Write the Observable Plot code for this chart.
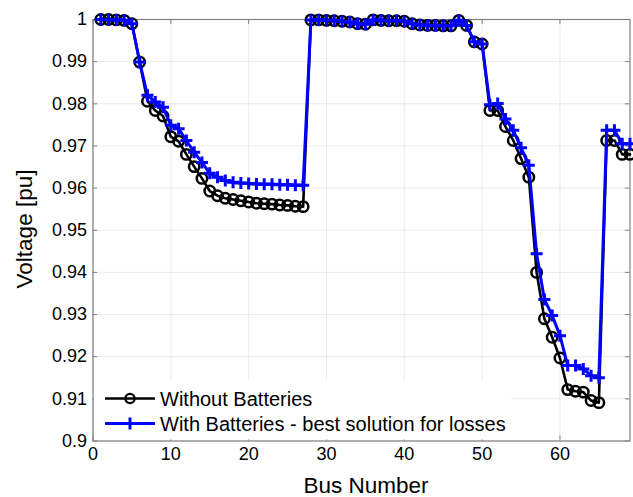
<!DOCTYPE html>
<html><head><meta charset="utf-8">
<script src="https://cdn.jsdelivr.net/npm/d3@7"></script>
<script src="https://cdn.jsdelivr.net/npm/@observablehq/plot@0.6"></script>
<style>
body{margin:0;background:#fff;}
#chart{position:relative;width:633px;height:497px;}
</style>
</head><body><div id="chart"></div>
<script>
const busNumbers = [1,2,3,4,5,6,7,8,9,10,11,12,13,14,15,16,17,18,19,20,21,22,23,24,25,26,27,28,29,30,31,32,33,34,35,36,37,38,39,40,41,42,43,44,45,46,47,48,49,50,51,52,53,54,55,56,57,58,59,60,61,62,63,64,65,66,67,68,69];

const withoutBatteries = [
  1.0000,1.0000,0.9999,0.9998,0.9990,0.9899,0.9806,0.9784,0.9771,0.9722,
  0.9711,0.9680,0.9651,0.9623,0.9593,0.9582,0.9576,0.9573,0.9570,0.9567,
  0.9564,0.9563,0.9562,0.9560,0.9559,0.9557,0.9556,0.9999,0.9999,0.9998,
  0.9997,0.9996,0.9994,0.9990,0.9989,0.9999,0.9998,0.9997,0.9997,0.9996,
  0.9990,0.9987,0.9986,0.9986,0.9985,0.9985,0.9998,0.9986,0.9947,0.9942,
  0.9784,0.9784,0.9746,0.9713,0.9670,0.9626,0.9400,0.9290,0.9246,0.9197,
  0.9122,0.9118,0.9116,0.9096,0.9091,0.9713,0.9713,0.9680,0.9680
];

const withBatteries = [
  1.0000,1.0000,0.9999,0.9998,0.9990,0.9899,0.9820,0.9804,0.9792,0.9749,
  0.9741,0.9713,0.9685,0.9661,0.9635,0.9626,0.9618,0.9614,0.9612,0.9611,
  0.9610,0.9609,0.9609,0.9608,0.9608,0.9607,0.9607,0.9999,0.9999,0.9998,
  0.9997,0.9996,0.9994,0.9990,0.9989,0.9999,0.9998,0.9997,0.9997,0.9996,
  0.9990,0.9987,0.9986,0.9986,0.9985,0.9985,0.9998,0.9986,0.9947,0.9942,
  0.9798,0.9801,0.9764,0.9737,0.9696,0.9654,0.9444,0.9336,0.9298,0.9250,
  0.9179,0.9179,0.9171,0.9155,0.9150,0.9737,0.9737,0.9705,0.9705
];

const xTicks = [0,10,20,30,40,50,60];
const yTicks = [0.9,0.91,0.92,0.93,0.94,0.95,0.96,0.97,0.98,0.99,1];
const seriesNames = ["Without Batteries","With Batteries - best solution for losses"];
const xLabel = "Bus Number";
const yLabel = "Voltage [pu]";

const rowsA = busNumbers.map((b,i)=>({bus:b, v:withoutBatteries[i]}));
const rowsB = busNumbers.map((b,i)=>({bus:b, v:withBatteries[i]}));

const plusSymbol = {draw(ctx, size){ const r = Math.sqrt(size/Math.PI); ctx.moveTo(-r,0); ctx.lineTo(r,0); ctx.moveTo(0,-r); ctx.lineTo(0,r);} };

const axisColor = "#808080";
const fmtY = d3.format("~g");
const font = "'Liberation Sans', Arial, Helvetica, sans-serif";

const plot = Plot.plot({
  width: 633, height: 497,
  marginLeft: 92.5, marginRight: 3.5, marginTop: 19, marginBottom: 56.5,
  style: {fontFamily: font, fontSize: "18px", background: "#fff", color: "#000", overflow: "visible"},
  x: {domain: [0, 69]},
  y: {domain: [0.9, 1]},
  marks: [
    Plot.gridX(xTicks, {stroke: "#000", strokeOpacity: 0.08, strokeWidth: 1}),
    Plot.gridY(yTicks, {stroke: "#000", strokeOpacity: 0.08, strokeWidth: 1}),
    Plot.frame({stroke: axisColor, strokeWidth: 1.2}),
    Plot.axisX(xTicks, {anchor: "bottom", tickSize: 0, tickPadding: 6, label: null, fontSize: 18, fill: "#000"}),
    Plot.axisY(yTicks, {anchor: "left", tickSize: 0, tickPadding: 6, label: null, fontSize: 18, fill: "#000", tickFormat: fmtY}),
    Plot.ruleX(xTicks, {x: d=>d, y1: 0.9, y2: 0.9012, stroke: axisColor}),
    Plot.ruleX(xTicks, {x: d=>d, y1: 0.9988, y2: 1, stroke: axisColor}),
    Plot.ruleY(yTicks, {y: d=>d, x1: 0, x2: 0.6, stroke: axisColor}),
    Plot.ruleY(yTicks, {y: d=>d, x1: 68.4, x2: 69, stroke: axisColor}),
    Plot.line(rowsA, {x: "bus", y: "v", stroke: "#000", strokeWidth: 2.6}),
    Plot.dot(rowsA, {x: "bus", y: "v", r: 5.2, stroke: "#000", strokeWidth: 2.5, fill: "none"}),
    Plot.line(rowsB, {x: "bus", y: "v", stroke: "#0000ff", strokeWidth: 3}),
    Plot.dot(rowsB, {x: "bus", y: "v", r: 6, symbol: plusSymbol, stroke: "#0000ff", strokeWidth: 3, fill: "none"})
  ]
});

const svg = d3.select(plot);
// axis titles
svg.append("text").attr("x", 366).attr("y", 485).attr("text-anchor","middle").attr("dominant-baseline","central")
  .attr("font-size", 22.5).attr("font-family", font).attr("fill","#000").text(xLabel);
svg.append("text").attr("transform","translate(24,229) rotate(-90)").attr("text-anchor","middle").attr("dominant-baseline","central")
  .attr("font-size", 22.5).attr("font-family", font).attr("fill","#000").text(yLabel);

// legend
const lg = svg.append("g").attr("font-family", font).attr("font-size", 20).attr("text-anchor", "start");
lg.append("rect").attr("x", 94).attr("y", 380).attr("width", 417).attr("height", 59.5).attr("fill", "#fff");
const rows = [
  {y: 398.5, color: "#000", w: 2.6, name: seriesNames[0], kind: "circle"},
  {y: 423.5, color: "#0000ff", w: 3, name: seriesNames[1], kind: "plus"}
];
rows.forEach(r => {
  lg.append("line").attr("x1",105).attr("x2",155).attr("y1",r.y).attr("y2",r.y).attr("stroke",r.color).attr("stroke-width",r.w);
  if (r.kind === "circle") {
    lg.append("circle").attr("cx",130).attr("cy",r.y).attr("r",4.6).attr("fill","none").attr("stroke",r.color).attr("stroke-width",2.3);
  } else {
    lg.append("path").attr("d",`M124,${r.y}H136M130,${r.y-6}V${r.y+6}`).attr("stroke",r.color).attr("stroke-width",3);
  }
  lg.append("text").attr("x",160).attr("y",r.y).attr("text-anchor","start").attr("dominant-baseline","central").attr("fill","#000").text(r.name);
});

document.getElementById("chart").appendChild(plot);
</script>
</body></html>
